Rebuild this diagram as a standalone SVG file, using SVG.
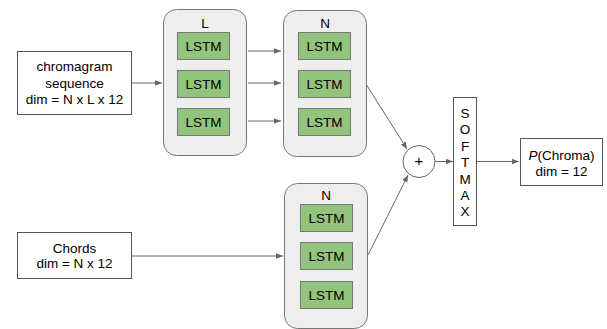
<svg xmlns="http://www.w3.org/2000/svg" width="607" height="329" viewBox="0 0 607 329">
  <style>
    text { font-family: "Liberation Sans", Arial, sans-serif; font-size: 13.5px; fill: #000; text-anchor: middle; }
    .box { fill: #fff; stroke: #555; stroke-width: 1; }
    .group { fill: #eeeeee; stroke: #777; stroke-width: 1; }
    .cell { fill: #93c47d; stroke: #777; stroke-width: 1; }
    .edge { stroke: #666; stroke-width: 1; fill: none; marker-end: url(#arrow); }
  </style>
  <defs>
    <marker id="arrow" viewBox="0 0 10 10" refX="10" refY="5" markerWidth="7" markerHeight="7" markerUnits="userSpaceOnUse" orient="auto">
      <path d="M0,1 L10,5 L0,9 z" fill="#666"/>
    </marker>
  </defs>

  <rect width="607" height="329" fill="#fff"/>

  <!-- connectors -->
  <g id="connectors">
    <line class="edge" x1="132" y1="83" x2="162" y2="83"/>
    <line class="edge" x1="248" y1="51" x2="281" y2="51"/>
    <line class="edge" x1="248" y1="83" x2="281" y2="83"/>
    <line class="edge" x1="248" y1="121" x2="281" y2="121"/>
    <line class="edge" x1="366" y1="84" x2="407" y2="149"/>
    <line class="edge" x1="132" y1="256" x2="283" y2="256"/>
    <line class="edge" x1="368" y1="255" x2="408" y2="175"/>
    <line class="edge" x1="435" y1="161.5" x2="453" y2="161.5"/>
    <line class="edge" x1="477" y1="161.5" x2="519" y2="161.5"/>
  </g>

  <!-- input: chromagram sequence -->
  <g id="chromagram">
    <rect class="box" x="17.5" y="51.5" width="114" height="63"/>
    <text x="74.5" y="71">chromagram</text>
    <text x="74.5" y="87.5">sequence</text>
    <text x="74.5" y="104">dim = N x L x 12</text>
  </g>

  <!-- L stack of LSTMs -->
  <g id="lstm-L">
    <rect class="group" x="163.5" y="9.5" width="83" height="146" rx="13"/>
    <text x="205" y="28">L</text>
    <rect class="cell" x="177.5" y="32.5" width="52" height="27"/>
    <text x="203.5" y="50.5">LSTM</text>
    <rect class="cell" x="177.5" y="70.5" width="52" height="27"/>
    <text x="203.5" y="88.5">LSTM</text>
    <rect class="cell" x="177.5" y="108.5" width="52" height="27"/>
    <text x="203.5" y="126.5">LSTM</text>
  </g>

  <!-- N stack of LSTMs (top) -->
  <g id="lstm-N-top">
    <rect class="group" x="283.5" y="10.5" width="83" height="146" rx="13"/>
    <text x="325" y="28">N</text>
    <rect class="cell" x="298.5" y="32.5" width="52" height="27"/>
    <text x="324.5" y="50.5">LSTM</text>
    <rect class="cell" x="298.5" y="70.5" width="52" height="27"/>
    <text x="324.5" y="88.5">LSTM</text>
    <rect class="cell" x="298.5" y="108.5" width="52" height="27"/>
    <text x="324.5" y="126.5">LSTM</text>
  </g>

  <!-- input: chords -->
  <g id="chords">
    <rect class="box" x="17.5" y="232.5" width="114" height="46"/>
    <text x="74.5" y="253">Chords</text>
    <text x="74.5" y="268">dim = N x 12</text>
  </g>

  <!-- N stack of LSTMs (bottom) -->
  <g id="lstm-N-bottom">
    <rect class="group" x="284.5" y="183.5" width="83" height="145" rx="13"/>
    <text x="326" y="200">N</text>
    <rect class="cell" x="300.5" y="204.5" width="52" height="27"/>
    <text x="326.5" y="222.5">LSTM</text>
    <rect class="cell" x="300.5" y="242.5" width="52" height="27"/>
    <text x="326.5" y="260.5">LSTM</text>
    <rect class="cell" x="300.5" y="281.5" width="52" height="27"/>
    <text x="326.5" y="299.5">LSTM</text>
  </g>

  <!-- sum -->
  <g id="sum">
    <circle cx="419" cy="161.5" r="16" fill="#fff" stroke="#666"/>
    <text x="419" y="166" style="font-size:15px">+</text>
  </g>

  <!-- softmax -->
  <g id="softmax">
    <rect class="box" x="453.5" y="97.5" width="23" height="128"/>
    <text x="465" y="118">S</text>
    <text x="465" y="134">O</text>
    <text x="465" y="150.5">F</text>
    <text x="465" y="167">T</text>
    <text x="465" y="183.5">M</text>
    <text x="465" y="200">A</text>
    <text x="465" y="216">X</text>
  </g>

  <!-- output -->
  <g id="output">
    <rect class="box" x="520.5" y="138.5" width="82" height="47"/>
    <text x="561.5" y="160"><tspan font-style="italic">P</tspan>(Chroma)</text>
    <text x="561.5" y="175.5">dim = 12</text>
  </g>
</svg>
